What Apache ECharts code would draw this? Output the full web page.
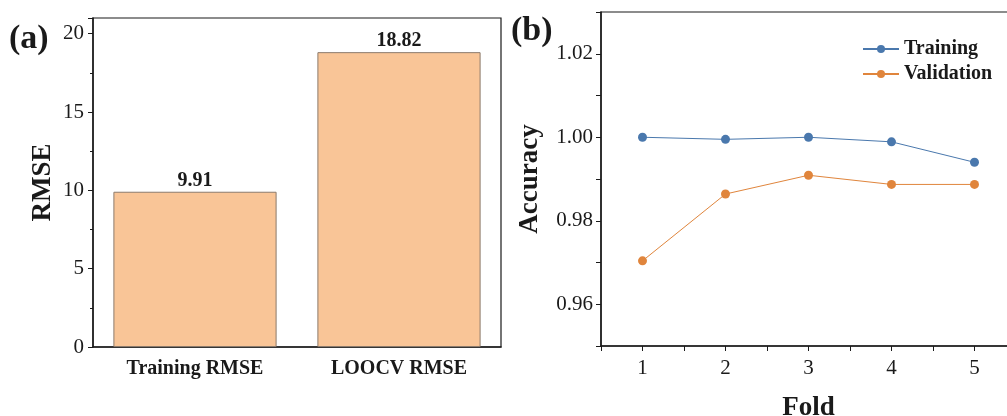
<!DOCTYPE html>
<html>
<head>
<meta charset="utf-8">
<style>
  html, body { margin: 0; padding: 0; background: #fff; }
  #chart { width: 1007px; height: 416px; }
</style>
<script src="https://cdn.jsdelivr.net/npm/echarts@6/dist/echarts.min.js"></script>
</head>
<body>
<div id="chart"></div>
<script>
// panel (a) data
var rmseCategories = ["Training RMSE", "LOOCV RMSE"];
var rmseValues = [9.91, 18.82];

// panel (b) data
var folds = [1, 2, 3, 4, 5];
var trainingAcc = [1.0, 0.9995, 1.0, 0.9989, 0.994];
var validationAcc = [0.9704, 0.9864, 0.9909, 0.9887, 0.9887];

var FONT = "Liberation Serif";
var INK = "#1a1a1a";

var myChart = echarts.init(document.getElementById("chart"));

var axisLineStyle = { color: INK, width: 1.5 };

var option = {
  backgroundColor: "#fff",
  textStyle: { fontFamily: FONT },
  graphic: [
    { type: "text", left: 9, top: 22, style: { text: "(a)", font: "bold 34px " + FONT, fill: INK } },
    { type: "text", left: 511, top: 14, style: { text: "(b)", font: "bold 34px " + FONT, fill: INK } },
  ],
  legend: {
    orient: "vertical",
    left: 857,
    top: 34,
    itemWidth: 36,
    itemHeight: 10,
    itemGap: 5,
    textStyle: { fontFamily: FONT, fontWeight: "bold", fontSize: 20, color: INK },
    data: ["Training", "Validation"],
  },
  grid: [
    { left: 93, top: 18, width: 408, height: 329, show: true, borderColor: INK, borderWidth: 1.2, outerBoundsMode: "none" },
    { left: 601, top: 12, width: 415, height: 334, show: true, borderColor: INK, borderWidth: 1.2, outerBoundsMode: "none" },
  ],
  xAxis: [
    {
      gridIndex: 0,
      type: "category",
      data: rmseCategories,
      axisLine: { lineStyle: axisLineStyle },
      axisTick: { alignWithLabel: true, length: 6, lineStyle: { color: INK } },
      axisLabel: { fontFamily: FONT, fontWeight: "bold", fontSize: 20, color: INK, margin: 12 },
    },
    {
      gridIndex: 1,
      type: "value",
      min: 0.5,
      max: 5.5,
      interval: 0.5,
      name: "Fold",
      nameLocation: "middle",
      nameGap: 49,
      nameTextStyle: { fontFamily: FONT, fontWeight: "bold", fontSize: 27, color: INK },
      axisLine: { lineStyle: axisLineStyle },
      axisTick: { length: 5, lineStyle: { color: INK } },
      splitLine: { show: false },
      axisLabel: {
        fontFamily: FONT, fontSize: 21, color: INK, margin: 12,
        formatter: function (v) { return Math.abs(v - Math.round(v)) < 1e-6 ? String(Math.round(v)) : ""; },
      },
    },
  ],
  yAxis: [
    {
      gridIndex: 0,
      type: "value",
      min: 0,
      max: 21,
      interval: 5,
      name: "RMSE",
      nameLocation: "middle",
      nameGap: 36,
      nameTextStyle: { fontFamily: FONT, fontWeight: "bold", fontSize: 27, color: INK },
      axisLine: { show: true, lineStyle: axisLineStyle },
      axisTick: { show: true, length: 5, lineStyle: { color: INK } },
      minorTick: { show: true, splitNumber: 2, length: 3, lineStyle: { color: INK } },
      splitLine: { show: false },
      axisLabel: { fontFamily: FONT, fontSize: 21, color: INK, margin: 9, showMaxLabel: false },
    },
    {
      gridIndex: 1,
      type: "value",
      min: 0.95,
      max: 1.03,
      interval: 0.01,
      name: "Accuracy",
      nameLocation: "middle",
      nameGap: 57,
      nameTextStyle: { fontFamily: FONT, fontWeight: "bold", fontSize: 27, color: INK },
      axisLine: { show: true, lineStyle: axisLineStyle },
      axisTick: { show: true, length: 5, lineStyle: { color: INK } },
      splitLine: { show: false },
      axisLabel: {
        fontFamily: FONT, fontSize: 21, color: INK, margin: 8,
        formatter: function (v) {
          var k = Math.round(v * 100);
          return (k % 2 === 0 && k > 95 && k < 103) ? (k / 100).toFixed(2) : "";
        },
      },
    },
  ],
  series: [
    {
      type: "bar",
      xAxisIndex: 0,
      yAxisIndex: 0,
      data: rmseValues,
      barWidth: "80%",
      itemStyle: { color: "#f9c597", borderColor: "#8c7b6c", borderWidth: 1 },
      label: {
        show: true,
        position: "top",
        distance: 1,
        fontFamily: FONT,
        fontWeight: "bold",
        fontSize: 20,
        color: INK,
      },
    },
    {
      name: "Training",
      type: "line",
      xAxisIndex: 1,
      yAxisIndex: 1,
      data: folds.map(function (f, i) { return [f, trainingAcc[i]]; }),
      symbol: "circle",
      symbolSize: 9,
      color: "#4a78ad",
      lineStyle: { width: 1 },
    },
    {
      name: "Validation",
      type: "line",
      xAxisIndex: 1,
      yAxisIndex: 1,
      data: folds.map(function (f, i) { return [f, validationAcc[i]]; }),
      symbol: "circle",
      symbolSize: 9,
      color: "#e0853c",
      lineStyle: { width: 1 },
    },
  ],
};

myChart.setOption(option);
</script>
</body>
</html>
